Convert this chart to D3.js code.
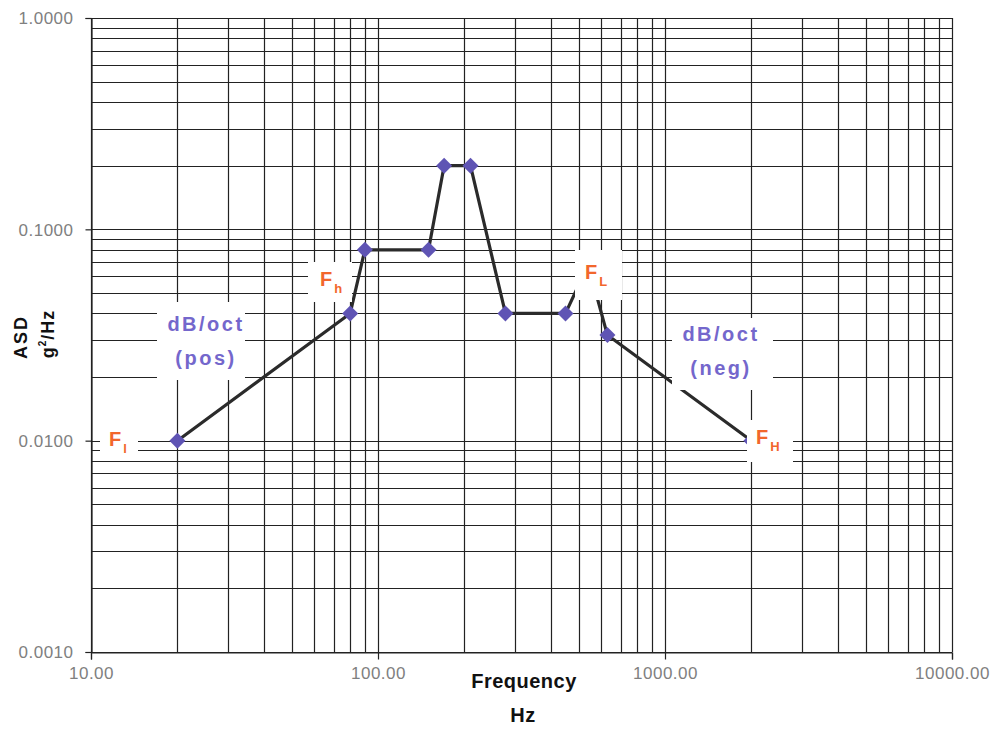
<!DOCTYPE html>
<html>
<head>
<meta charset="utf-8">
<script src="https://cdn.jsdelivr.net/npm/d3@7"></script>
<style>
  body { margin: 0; background: #fff; }
  svg { display: block; }
  text { font-family: "Liberation Sans", Arial, sans-serif; }
</style>
</head>
<body>
<svg id="chart" width="996" height="730"></svg>
<script>
// ---- data ----
const frequency = [20, 80, 90, 150, 170, 210, 278, 450, 540, 630, 2000];
const asd       = [0.01, 0.04, 0.08, 0.08, 0.2, 0.2, 0.04, 0.04, 0.068, 0.0316, 0.01];
const xTickValues = [10, 100, 1000, 10000];
const xTickLabels = ["10.00", "100.00", "1000.00", "10000.00"];
const yTickValues = [0.001, 0.01, 0.1, 1];
const yTickLabels = ["0.0010", "0.0100", "0.1000", "1.0000"];
const xTitle = ["Frequency", "Hz"];
const yTitle = ["ASD", "g", "2", "/Hz"];

// ---- layout ----
const svg = d3.select("#chart");
const L = 91, R = 952, T = 18, B = 652;
const x = d3.scaleLog().domain([10, 10000]).range([L, R]);
const y = d3.scaleLog().domain([0.001, 1]).range([B, T]);

const gridColor = "#222";
const g = svg.append("g");

const xGrid = [];
for (let d = 10; d < 10000; d *= 10) for (let k = 1; k <= 9; k++) xGrid.push(d * k);
xGrid.push(10000);
const yGrid = [];
for (let d = 0.001; d < 0.99; d *= 10) for (let k = 1; k <= 9; k++) yGrid.push(d * k);
yGrid.push(1);

g.selectAll("line.vg").data(xGrid).join("line")
  .attr("x1", d => Math.round(x(d)) + 0.5).attr("x2", d => Math.round(x(d)) + 0.5)
  .attr("y1", T).attr("y2", B)
  .attr("stroke", gridColor).attr("stroke-width", 1.2);
g.selectAll("line.hg").data(yGrid).join("line")
  .attr("y1", d => Math.round(y(d)) + 0.5).attr("y2", d => Math.round(y(d)) + 0.5)
  .attr("x1", L).attr("x2", R)
  .attr("stroke", gridColor).attr("stroke-width", 1.2);

const xAxis = d3.axisBottom(x).tickValues(xTickValues).tickSize(7)
  .tickFormat((d, i) => xTickLabels[i]);
const gx = svg.append("g").attr("transform", `translate(0,${B + 0.5})`).call(xAxis);
gx.select(".domain").attr("stroke", gridColor).attr("stroke-width", 1.2);
gx.selectAll(".tick line").attr("stroke", gridColor).attr("stroke-width", 1.2);
gx.selectAll(".tick text").attr("fill", "#808080").attr("font-size", 17)
  .attr("y", 26).attr("dy", 0).attr("letter-spacing", 0.5);

const yAxis = d3.axisLeft(y).tickValues(yTickValues).tickSize(6)
  .tickFormat((d, i) => yTickLabels[i]);
const gy = svg.append("g").attr("transform", `translate(${L + 0.5},0)`).call(yAxis);
gy.select(".domain").attr("stroke", gridColor).attr("stroke-width", 1.2);
gy.selectAll(".tick line").attr("stroke", gridColor).attr("stroke-width", 1.2);
gy.selectAll(".tick text").attr("fill", "#808080").attr("font-size", 17)
  .attr("x", -18).attr("dy", "0.35em").attr("letter-spacing", 0.5);

// ---- data line ----
const pts = frequency.map((f, i) => [f, asd[i]]);
svg.append("path").datum(pts)
  .attr("fill", "none").attr("stroke", "#2b2b2b").attr("stroke-width", 3.2)
  .attr("stroke-linejoin", "round")
  .attr("d", d3.line().x(d => x(d[0])).y(d => y(d[1])));

svg.selectAll("path.mk").data(pts).join("path")
  .attr("transform", d => `translate(${x(d[0])},${y(d[1])})`)
  .attr("d", "M0,-8 L8,0 L0,8 L-8,0 Z")
  .attr("fill", "#5f54b4");

// ---- annotation boxes (white) ----
const boxes = [
  [100, 424, 38, 34],   // F_l
  [308, 262, 44, 40],   // F_h
  [575, 250, 47, 50],   // F_L
  [747, 420, 46, 42],   // F_H
  [157, 302, 88, 78],   // dB/oct pos
  [672, 318, 101, 72]   // dB/oct neg
];
svg.selectAll("rect.box").data(boxes).join("rect")
  .attr("x", d => d[0]).attr("y", d => d[1]).attr("width", d => d[2]).attr("height", d => d[3])
  .attr("fill", "#fff");

const orange = "#f2662c";
const purple = "#7467cc";
function fLabel(px, py, sub) {
  const t = svg.append("text").attr("x", px).attr("y", py)
    .attr("fill", orange).attr("font-weight", "bold").attr("font-size", 20);
  t.append("tspan").text("F");
  t.append("tspan").attr("font-size", 13).attr("dx", 2).attr("dy", 7).text(sub);
}
fLabel(109, 446, "l");
fLabel(320, 286, "h");
fLabel(585, 279, "L");
fLabel(756, 444, "H");

function dbLabel(cx, cy, second) {
  svg.append("text").attr("x", cx).attr("y", cy).attr("text-anchor", "middle")
    .attr("fill", purple).attr("font-weight", "bold").attr("font-size", 20)
    .attr("letter-spacing", 2.5).text("dB/oct");
  svg.append("text").attr("x", cx).attr("y", cy + 34).attr("text-anchor", "middle")
    .attr("fill", purple).attr("font-weight", "bold").attr("font-size", 20)
    .attr("letter-spacing", 2.5).text(second);
}
dbLabel(206, 331, "(pos)");
dbLabel(721, 341, "(neg)");

// ---- axis titles ----
svg.append("text").attr("x", 524).attr("y", 688).attr("text-anchor", "middle")
  .attr("font-weight", "bold").attr("font-size", 20).attr("fill", "#111")
  .attr("letter-spacing", 0.5).text(xTitle[0]);
svg.append("text").attr("x", 523).attr("y", 722).attr("text-anchor", "middle")
  .attr("font-weight", "bold").attr("font-size", 20).attr("fill", "#111")
  .attr("letter-spacing", 0.5).text(xTitle[1]);

svg.append("text").attr("transform", "translate(27,337) rotate(-90)")
  .attr("text-anchor", "middle").attr("font-weight", "bold").attr("font-size", 18)
  .attr("fill", "#111").attr("letter-spacing", 2).text(yTitle[0]);
const yt = svg.append("text").attr("transform", "translate(54,334) rotate(-90)")
  .attr("text-anchor", "middle").attr("font-weight", "bold").attr("font-size", 18)
  .attr("fill", "#111").attr("letter-spacing", 1);
yt.append("tspan").text(yTitle[1]);
yt.append("tspan").attr("font-size", 10).attr("dy", -8).text(yTitle[2]);
yt.append("tspan").attr("dy", 8).text(yTitle[3]);
</script>
</body>
</html>
